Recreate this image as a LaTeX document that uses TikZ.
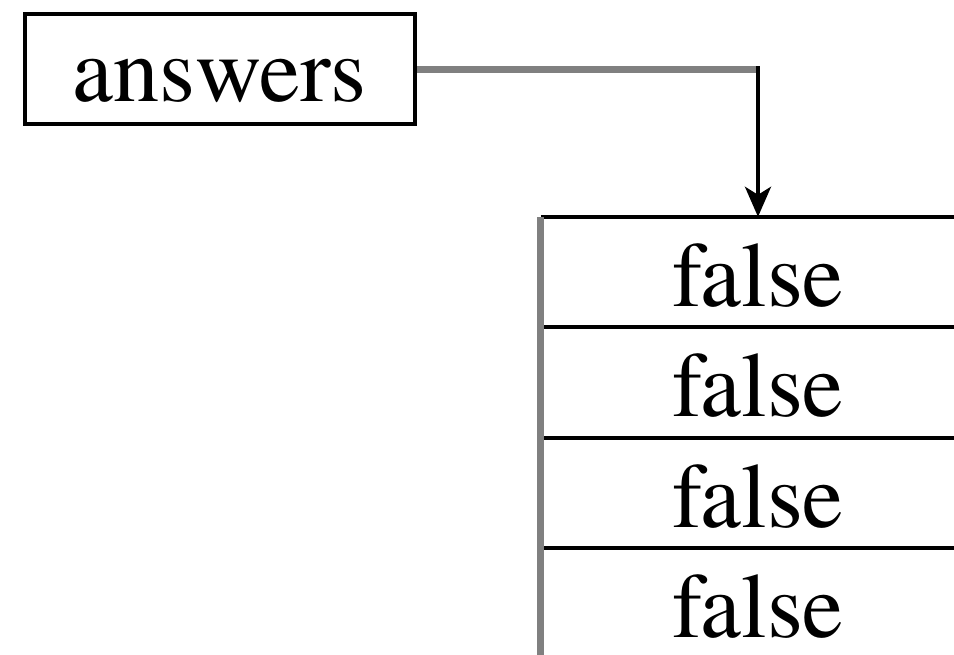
\documentclass[tikz,border=0pt]{standalone}
\usepackage{fontspec}
\setmainfont{texgyretermes}[Extension=.otf,UprightFont=*-regular,BoldFont=*-bold]
\usetikzlibrary{arrows.meta}
\definecolor{linkgray}{HTML}{808080}
\begin{document}
\begin{tikzpicture}[x=1pt,y=1pt,
  varbox/.style={draw=black,line width=4pt,inner sep=0pt,
    minimum width=390.5pt,minimum height=110pt,
    text height=65pt,text depth=0pt,font=\fontsize{92}{110}\selectfont},
  cell/.style={inner sep=0pt,minimum width=434pt,minimum height=110.5pt,
    text height=68pt,text depth=0pt,font=\fontsize{92}{110}\selectfont},
  rowline/.style={black,line width=4pt},
  edgeline/.style={linkgray,line width=7pt},
  ref/.style={linkgray,line width=6.5pt},
  refdown/.style={black,line width=4pt,-{Stealth[length=30pt,width=26pt,inset=8pt]}}]
\useasboundingbox (0,0) rectangle (954,-655);
\clip (0,0) rectangle (954,-655);

% the variable
\node[varbox] (answers) at (219.75,-69.5) {answers};

% the array cells
\node[cell] (c1) at (758,-272.25) {false};
\node[cell] (c2) at (758,-382.75) {false};
\node[cell] (c3) at (758,-493.25) {false};
\node[cell] (c4) at (758,-603.75) {false};

% cell separators and left edge
\foreach \c in {c1,c2,c3,c4}
  \draw[rowline] (\c.north west) -- (\c.north east);
\draw[edgeline] (c1.north west) -- (c4.south west);

% reference from the variable to the array
\coordinate (bend) at (c1.north |- answers.east);
\draw[ref] (answers.east) -- ([xshift=2pt]bend);
\draw[refdown] ([yshift=3.25pt]bend) -- (c1.north);
\end{tikzpicture}
\end{document}
